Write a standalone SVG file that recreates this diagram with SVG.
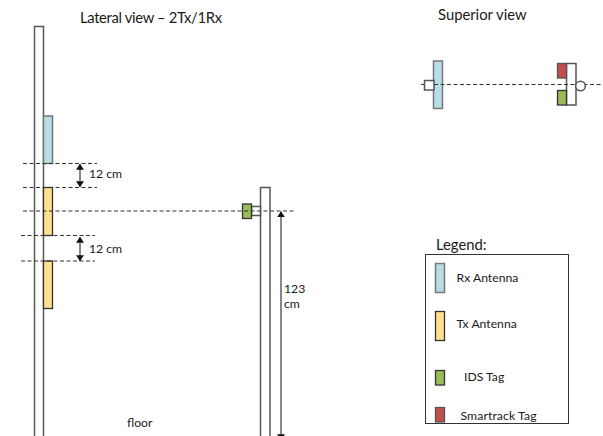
<svg xmlns="http://www.w3.org/2000/svg" width="603" height="436" viewBox="0 0 603 436">
<style>
text{font-family:Lato,"Liberation Sans",sans-serif;fill:#1a1a1a}
.s{font-size:12.200px}.t{font-size:14.800px}
.o{fill:#fff;stroke:#555;stroke-width:1.500}
.rx{fill:#b7dde8;stroke:#777;stroke-width:1.500}
.tx{fill:#ffe08f;stroke:#333;stroke-width:1.300}
.ids{fill:#9bbb59;stroke:#333;stroke-width:1.300}
.st{fill:#c0504d;stroke:#555;stroke-width:1.300}
.d{stroke:#333;stroke-width:1.100;stroke-dasharray:4 2.500;fill:none}
.a{stroke:#555;stroke-width:1.400;fill:none;marker-start:url(#h);marker-end:url(#h)}
</style>
<defs><marker id="h" viewBox="0 0 6 8" refX="5.800" refY="4" markerWidth="6" markerHeight="8" markerUnits="userSpaceOnUse" orient="auto-start-reverse"><path d="M0 0L6 4L0 8Z" fill="#111"/></marker></defs>
<g id="lateral-title"><text x="80" y="23" class="t" textLength="142">Lateral view – 2Tx/1Rx</text></g>
<g id="superior-title"><text x="438" y="20" class="t">Superior view</text></g>
<g id="pole-left"><path class="o" d="M34.500 436V26.500H43.500V436"/></g>
<g id="rx-antenna"><rect class="rx" x="43.500" y="116" width="9" height="47.500"/></g>
<g id="tx-antenna-1"><rect class="tx" x="43.500" y="187.500" width="9" height="48"/></g>
<g id="tx-antenna-2"><rect class="tx" x="43.500" y="261" width="9" height="47.500"/></g>
<g id="pole-right"><path class="o" d="M260.500 436V187.500H270V436"/></g>
<g id="ids-tag-lateral"><rect class="o" x="251.500" y="206.500" width="9" height="9"/><rect class="ids" x="242.500" y="204" width="9" height="14.500"/></g>
<g id="superior-rx"><rect class="rx" x="433.500" y="61" width="9" height="47.500"/></g>
<g id="superior-tag"><rect class="o" x="566.500" y="63.500" width="9.500" height="41.500"/><rect class="st" x="557.500" y="63.500" width="9" height="14.500"/><rect class="ids" x="557.500" y="90.500" width="9" height="14.500"/></g>
<g id="connectors">
<path class="d" d="M23 163.500H97M23 187.500H97M23 211H294M21 235.500H95M21 261H95M421 84.500H603"/>
<path class="a" d="M80 164V187"/>
<path class="a" d="M80 237V261"/>
<path class="a" d="M281 211.500V440"/>
</g>
<g id="superior-box"><rect class="o" x="424.500" y="80.500" width="9.500" height="9.500"/></g>
<g id="superior-circle"><circle class="o" cx="580.500" cy="86" r="4.800"/></g>
<g id="dim-labels"><text x="89" y="178" class="s">12 cm</text><text x="89" y="253" class="s">12 cm</text><text x="284" y="293" class="s">123</text><text x="284" y="308" class="s">cm</text><text x="127" y="427" class="s">floor</text></g>
<g id="legend">
<text x="436" y="250" class="t">Legend:</text>
<rect x="425.500" y="254.500" width="143" height="169" fill="#fff" stroke="#333" stroke-width="1"/>
<rect class="rx" x="435.500" y="263.500" width="9" height="29"/><text x="456.500" y="282" class="s">Rx Antenna</text>
<rect class="tx" x="435.500" y="311.500" width="9" height="29"/><text x="456.500" y="328" class="s">Tx Antenna</text>
<rect class="ids" x="435.500" y="370.500" width="9" height="14.500"/><text x="464" y="381" class="s">IDS Tag</text>
<rect class="st" x="435.500" y="407.500" width="9" height="14.500"/><text x="460.500" y="420" class="s" textLength="76">Smartrack Tag</text>
</g>
</svg>
